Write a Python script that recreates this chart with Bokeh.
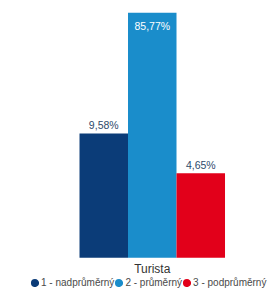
from bokeh.plotting import figure
from bokeh.models import Range1d, Legend, LegendItem, Label
from bokeh.core.properties import value
from bokeh.embed import file_html
from bokeh.resources import INLINE

group = "Turista"
series = ["1 - nadprůměrný", "2 - průměrný", "3 - podprůměrný"]
values = [9.58, 85.77, 4.65]
labels = ["9,58%", "85,77%", "4,65%"]
colors = ["#0b3c78", "#1a8dcb", "#e2001a"]

xs = list(range(len(values)))
center = (len(values) - 1) / 2
nan = float("nan")

p = figure(width=267, height=296, output_backend="svg", toolbar_location=None,
           y_axis_type="log", y_axis_location=None, x_axis_location=None,
           x_range=Range1d(-2.129, 3.376), y_range=Range1d(0.4947, 107.4),
           min_border_left=0, min_border_right=0, min_border_top=0, min_border_bottom=0)
p.outline_line_color = None
p.xgrid.visible = False
p.ygrid.visible = False
p.background_fill_color = "white"
p.border_fill_color = "white"

items = []
for i in xs:
    p.vbar(x=[i], top=[values[i]], bottom=1, width=1, fill_color=colors[i], line_color=None)
    marker = p.scatter(x=[nan], y=[nan], marker="circle", size=8, fill_color=colors[i],
                       line_color=colors[i], line_width=4.5)
    items.append(LegendItem(label=series[i], renderers=[marker]))

for i in xs:
    inside = values[i] == max(values)
    p.text(x=[i], y=[values[i]], text=[labels[i]], text_align="center",
           text_baseline="top" if inside else "bottom",
           y_offset=7 if inside else -2,
           text_color="white" if inside else "#2e4a6b",
           text_font=value("Liberation Sans"), text_font_size="10.5px")

p.add_layout(Label(x=center, y=1, text=group, text_align="center", text_baseline="middle",
                   y_offset=-11, text_font="Liberation Sans", text_font_size="12px",
                   text_color="#333333"))

legend = Legend(items=items, orientation="horizontal", location=(30, 8),
                label_text_font="Liberation Sans", label_text_font_size="10px",
                label_text_color="#4a4a4a", glyph_width=9, glyph_height=9,
                label_standoff=2, spacing=0, padding=0, margin=0,
                border_line_color=None, background_fill_alpha=0)
p.add_layout(legend, "center")

open("out.html", "w").write(file_html(p, INLINE))
